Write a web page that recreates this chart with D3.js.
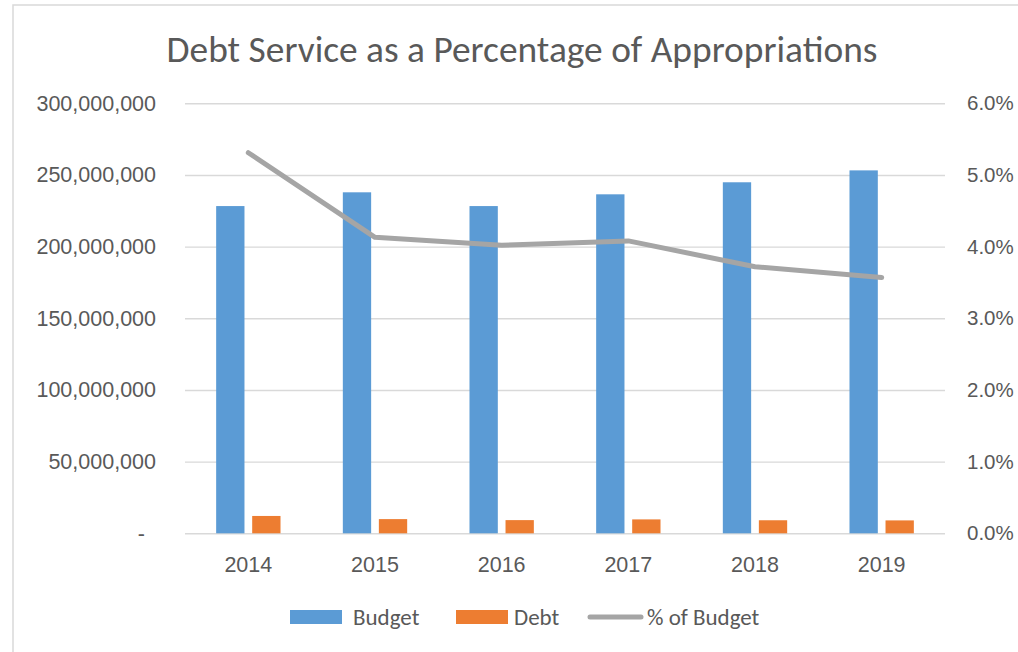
<!DOCTYPE html>
<html>
<head>
<meta charset="utf-8">
<script src="https://cdn.jsdelivr.net/npm/d3@7"></script>
<style>
  body { margin: 0; background: #fff; }
  svg { display: block; font-family: Carlito, Calibri, Lato, sans-serif; }
  .grid line { stroke: #d9d9d9; stroke-width: 1.4; }
  .grid path { display: none; }
  .lbl path, .lbl line { display: none; }
  .lbl text { fill: #595959; font-size: 21.5px; }
  .lbl.pct text { font-size: 20.5px; }
</style>
</head>
<body>
<div class="chart-container"></div>
<script>
// data
const years = ['2014', '2015', '2016', '2017', '2018', '2019'];
const budget = [228300000, 237900000, 228300000, 236500000, 244900000, 253200000];
const debt = [12100000, 9900000, 9200000, 9700000, 9100000, 9000000];
const pctOfBudget = [0.0531, 0.0413, 0.0402, 0.0408, 0.0372, 0.0357];
const leftTicks = [0, 50000000, 100000000, 150000000, 200000000, 250000000, 300000000];
const rightTicks = [0, 0.01, 0.02, 0.03, 0.04, 0.05, 0.06];
const seriesNames = ['Budget', 'Debt', '% of Budget'];

const W = 1018, H = 652;
const margin = { top: 103.3, right: 73, bottom: 118.7, left: 185 };
const width = W - margin.left - margin.right;
const height = H - margin.top - margin.bottom;

const svg = d3.select('.chart-container')
  .append('svg')
  .attr('width', W)
  .attr('height', H);

svg.append('rect')
  .attr('x', 13).attr('y', 5)
  .attr('width', W + 10).attr('height', H + 10)
  .attr('fill', '#fff')
  .attr('stroke', '#d9d9d9')
  .attr('stroke-width', 1.5);

// title
svg.append('text')
  .attr('x', 522)
  .attr('y', 62)
  .attr('text-anchor', 'middle')
  .style('font-size', '37.4px')
  .style('font-weight', 300)
  .style('fill', '#595959')
  .text('Debt Service as a Percentage of Appropriations');

const g = svg.append('g')
  .attr('transform', `translate(${margin.left}, ${margin.top})`);

// scales
const x0 = d3.scaleBand()
  .domain(years)
  .range([0, width])
  .padding(0);

const groupW = x0.bandwidth() * 0.508;
const x1 = d3.scaleBand()
  .domain(['Budget', 'Debt'])
  .range([(x0.bandwidth() - groupW) / 2, (x0.bandwidth() + groupW) / 2])
  .paddingInner(0.214);

const yLeft = d3.scaleLinear()
  .domain([0, 300000000])
  .range([height, 0]);

const yRight = d3.scaleLinear()
  .domain([0, 0.06])
  .range([height, 0]);

// gridlines
g.append('g')
  .attr('class', 'grid')
  .call(d3.axisLeft(yLeft).tickValues(leftTicks).tickSize(-width).tickFormat(''));

// left labels
const fmt = d3.format(',');
g.append('g')
  .attr('class', 'lbl')
  .call(d3.axisLeft(yLeft).tickValues(leftTicks).tickSize(0).tickPadding(29)
    .tickFormat(d => d === 0 ? '-' : fmt(d)))
  .selectAll('text')
  .attr('dx', d => d === 0 ? '-11' : null);

// right labels
g.append('g')
  .attr('class', 'lbl pct')
  .attr('transform', `translate(${width}, 0)`)
  .call(d3.axisRight(yRight).tickValues(rightTicks).tickSize(0).tickPadding(22)
    .tickFormat(d3.format('.1%')));

// x labels
g.append('g')
  .attr('class', 'lbl')
  .attr('transform', `translate(0, ${height})`)
  .call(d3.axisBottom(x0).tickSize(0).tickPadding(23));

// bars
const rows = years.map((y, i) => ({ year: y, Budget: budget[i], Debt: debt[i] }));
const colors = { Budget: '#5b9bd5', Debt: '#ed7d31' };

g.selectAll('.grp')
  .data(rows)
  .enter().append('g')
  .attr('class', 'grp')
  .attr('transform', d => `translate(${x0(d.year)}, 0)`)
  .selectAll('rect')
  .data(d => ['Budget', 'Debt'].map(k => ({ key: k, value: d[k] })))
  .enter().append('rect')
  .attr('x', d => x1(d.key))
  .attr('y', d => yLeft(d.value))
  .attr('width', x1.bandwidth())
  .attr('height', d => height - yLeft(d.value))
  .attr('fill', d => colors[d.key]);

// line
g.append('path')
  .datum(pctOfBudget)
  .attr('fill', 'none')
  .attr('stroke', '#a5a5a5')
  .attr('stroke-width', 5)
  .attr('stroke-linecap', 'round')
  .attr('stroke-linejoin', 'round')
  .attr('d', d3.line()
    .x((d, i) => x0(years[i]) + x0.bandwidth() / 2)
    .y(d => yRight(d)));

// legend
const legend = svg.append('g').attr('transform', 'translate(0, 617)');
const legendItems = [
  { name: seriesNames[0], x: 290, type: 'rect', color: colors.Budget, tx: 353 },
  { name: seriesNames[1], x: 456, type: 'rect', color: colors.Debt, tx: 514 },
  { name: seriesNames[2], x: 588, type: 'line', color: '#a5a5a5', tx: 647 }
];
legendItems.forEach(it => {
  if (it.type === 'rect') {
    legend.append('rect')
      .attr('x', it.x).attr('y', -7)
      .attr('width', 52).attr('height', 14)
      .attr('fill', it.color);
  } else {
    legend.append('line')
      .attr('x1', it.x + 2).attr('x2', it.x + 53)
      .attr('stroke', it.color)
      .attr('stroke-width', 5)
      .attr('stroke-linecap', 'round');
  }
  legend.append('text')
    .attr('x', it.tx)
    .attr('dy', '0.35em')
    .style('font-size', '23px')
    .style('fill', '#595959')
    .text(it.name);
});
</script>
</body>
</html>
